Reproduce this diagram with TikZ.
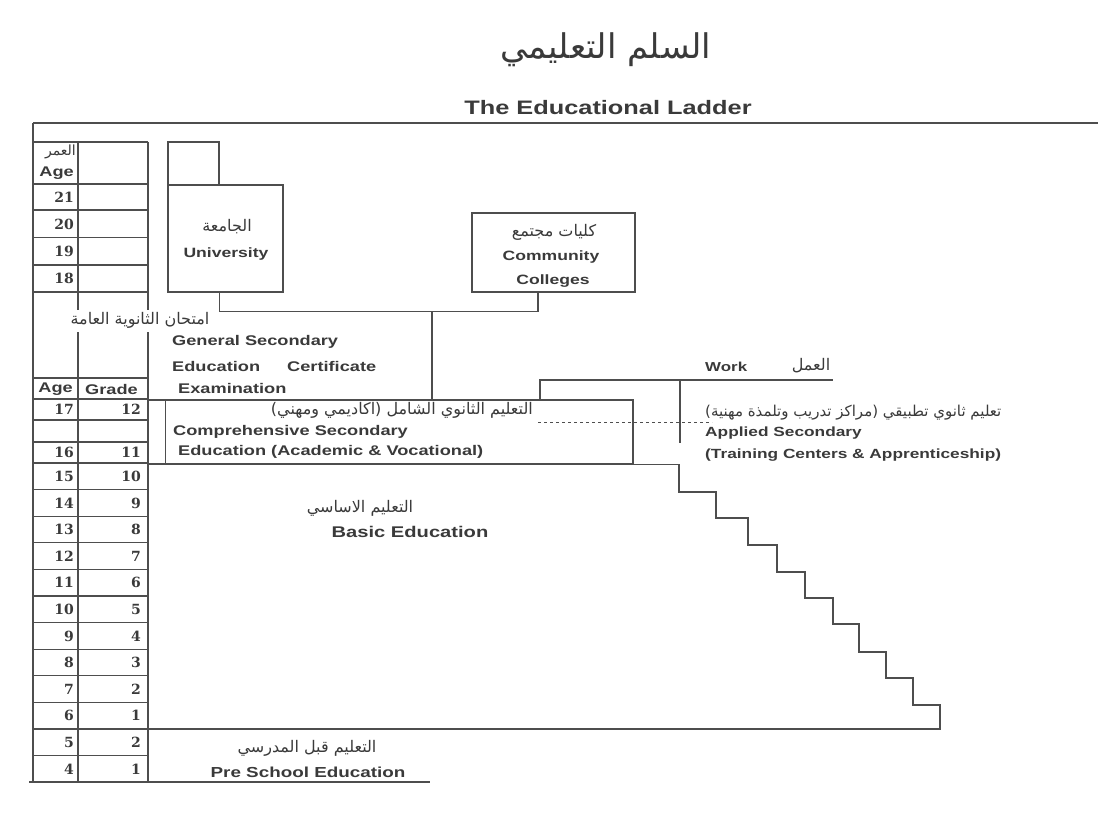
\documentclass[tikz,border=0pt]{standalone}
\usepackage{fontspec}
\setmainfont{Liberation Sans}
\newfontfamily\engfont[FakeStretch=1.3]{Liberation Sans}
\newfontfamily\numfont{DejaVu Serif}
\newfontfamily\arabicfont[Script=Arabic]{DejaVu Sans}
\TeXXeTstate=1
\definecolor{inkgray}{HTML}{3A3A3A}
\definecolor{rulegray}{HTML}{4E4E4E}

\begin{document}
\begin{tikzpicture}[x=1pt,y=-1pt,
  ruleline/.style={draw=rulegray, line width=1.3pt},
  boxed/.style={rectangle, draw=rulegray, line width=1.3pt, inner sep=0pt},
  entxt/.style={inner sep=0pt, text=inkgray, font=\engfont\bfseries\fontsize{14}{16}\selectfont},
  artxt/.style={inner sep=0pt, text=inkgray, font=\arabicfont\fontsize{16}{18}\selectfont},
  numtxt/.style={inner sep=0pt, anchor=east, text=inkgray, font=\numfont\bfseries\fontsize{14}{16}\selectfont}]
\useasboundingbox (0,0) rectangle (1098,833);
\fill[white] (0,0) rectangle (1098,833);

% title
\node[artxt, font=\arabicfont\fontsize{34}{38}\selectfont] (titlear) at (606,50) {\beginR السلم التعليمي\endR};
\node[entxt, font=\engfont\bfseries\fontsize{19.5}{22}\selectfont] (titleen) at (608,108) {The Educational Ladder};

% frame and table
\draw[ruleline] (33,123) -- (1098,123);
\draw[ruleline] (33,123) -- (33,782);
\draw[ruleline] (29,782) -- (430,782);
\foreach \y in {142,184,210,237.5,265,292,378,399,420,442,463,489.6,516.2,542.8,569.4,596,622.6,649.2,675.8,702.4,755.6}
  \draw[ruleline] (33,\y) -- (148,\y);
\foreach \x in {78,148} {
  \draw[ruleline] (\x,142) -- (\x,310);
  \draw[ruleline] (\x,332) -- (\x,782);
}
\node[artxt, anchor=east, font=\arabicfont\fontsize{14}{16}\selectfont] (agear) at (76,152) {\beginR العمر\endR};
\node[entxt, anchor=east] (agetop) at (74,173) {Age};
\foreach \a/\y in {21/197,20/224,19/251,18/278}
  \node[numtxt] (age\a) at (74,\y) {\a};
\node[entxt, anchor=east] (agehead) at (73,389) {Age};
\node[entxt, anchor=east] (gradehead) at (138,389) {Grade};
\foreach \a/\g/\y in {17/12/409.5,16/11/452.5,15/10/476.3,14/9/502.9,13/8/529.5,12/7/556.1,11/6/582.7,10/5/609.3,9/4/635.9,8/3/662.5,7/2/689.1,6/1/715.7,5/2/742.3,4/1/768.9} {
  \node[numtxt] (age\a) at (74,\y) {\a};
  \node[numtxt] (grade\a) at (141,\y) {\g};
}

% university and community colleges
\node[boxed, minimum width=51pt, minimum height=43pt] (unitop) at (193.5,163.5) {};
\node[boxed, minimum width=115pt, minimum height=107pt] (uni) at (225.5,238.5) {};
\node[artxt] (uniar) at (227,227) {\beginR الجامعة\endR};
\node[entxt, font=\engfont\bfseries\fontsize{13.5}{16}\selectfont] (unien) at (226,254) {University};
\node[boxed, minimum width=163pt, minimum height=79pt] (cc) at (553.5,252.5) {};
\node[artxt] (ccar) at (554,232) {\beginR كليات مجتمع\endR};
\node[entxt, font=\engfont\bfseries\fontsize{13.5}{16}\selectfont] (ccen1) at (551,257) {Community};
\node[entxt, font=\engfont\bfseries\fontsize{13.5}{16}\selectfont] (ccen2) at (553,281) {Colleges};

% general secondary examination
\node[artxt] (examar) at (140,320) {\beginR امتحان الثانوية العامة\endR};
\node[entxt, anchor=west] (exam1) at (172,342) {General Secondary};
\node[entxt, anchor=west] (exam2) at (172,366) {Education\hspace{22pt} Certificate};
\node[entxt, anchor=west] (exam3) at (178,388) {Examination};

% comprehensive secondary
\node[boxed, minimum width=485pt, minimum height=64pt] (comp) at (390.5,432) {};
\draw[ruleline] ([xshift=18pt]comp.north west) -- ([xshift=18pt]comp.south west);
\node[artxt, anchor=east] (compar) at (533,410) {\beginR التعليم الثانوي الشامل (اكاديمي ومهني)\endR};
\node[entxt, anchor=west] (comp1) at (173,432) {Comprehensive Secondary};
\node[entxt, anchor=west] (comp2) at (178,452) {Education (Academic \& Vocational)};

% connectors
\draw[ruleline] (uni.south -| unitop.east) -- ++(0,19) -| ([xshift=-15.5pt]cc.south);
\coordinate (examjoin) at (432,311);
\draw[ruleline] (examjoin) -- (examjoin |- comp.north);

% work and applied secondary
\coordinate (workfoot) at (540,400);
\coordinate (workend) at (833,380);
\coordinate (appfoot) at (680,443);
\draw[ruleline] (workfoot) |- (workend);
\draw[ruleline] (appfoot |- workend) -- (appfoot);
\coordinate (dashstart) at (538,422);
\coordinate (dashend) at (712,422);
\draw[ruleline, line width=1pt, dashed] (dashstart) -- (dashend);
\node[entxt, anchor=west, font=\engfont\bfseries\fontsize{13}{16}\selectfont] (worken) at (705,367) {Work};
\node[artxt] (workar) at (811,366) {\beginR العمل\endR};
\node[artxt, anchor=west, font=\arabicfont\fontsize{15}{17}\selectfont] (appar) at (705,413) {\beginR تعليم ثانوي تطبيقي (مراكز تدريب وتلمذة مهنية)\endR};
\node[entxt, anchor=west, font=\engfont\bfseries\fontsize{13.3}{16}\selectfont] (app1) at (705,433) {Applied Secondary};
\node[entxt, anchor=west, font=\engfont\bfseries\fontsize{13.3}{16}\selectfont] (app2) at (705,455) {(Training Centers \& Apprenticeship)};

% basic education staircase
\draw[ruleline] (comp.south west) -| (679,492) -| (716,518) -| (748,545) -| (777,572) -| (805,598)
  -| (833,624) -| (859,652) -| (886,678) -| (913,705) -| (940,729) -- (33,729);
\node[artxt] (basicar) at (360,508) {\beginR التعليم الاساسي\endR};
\node[entxt, font=\engfont\bfseries\fontsize{15.5}{18}\selectfont] (basicen) at (410,532) {Basic Education};

% pre school
\node[artxt] (prear) at (307,748) {\beginR التعليم قبل المدرسي\endR};
\node[entxt, font=\engfont\bfseries\fontsize{14.5}{17}\selectfont] (preen) at (308,772) {Pre School Education};
\end{tikzpicture}
\end{document}
